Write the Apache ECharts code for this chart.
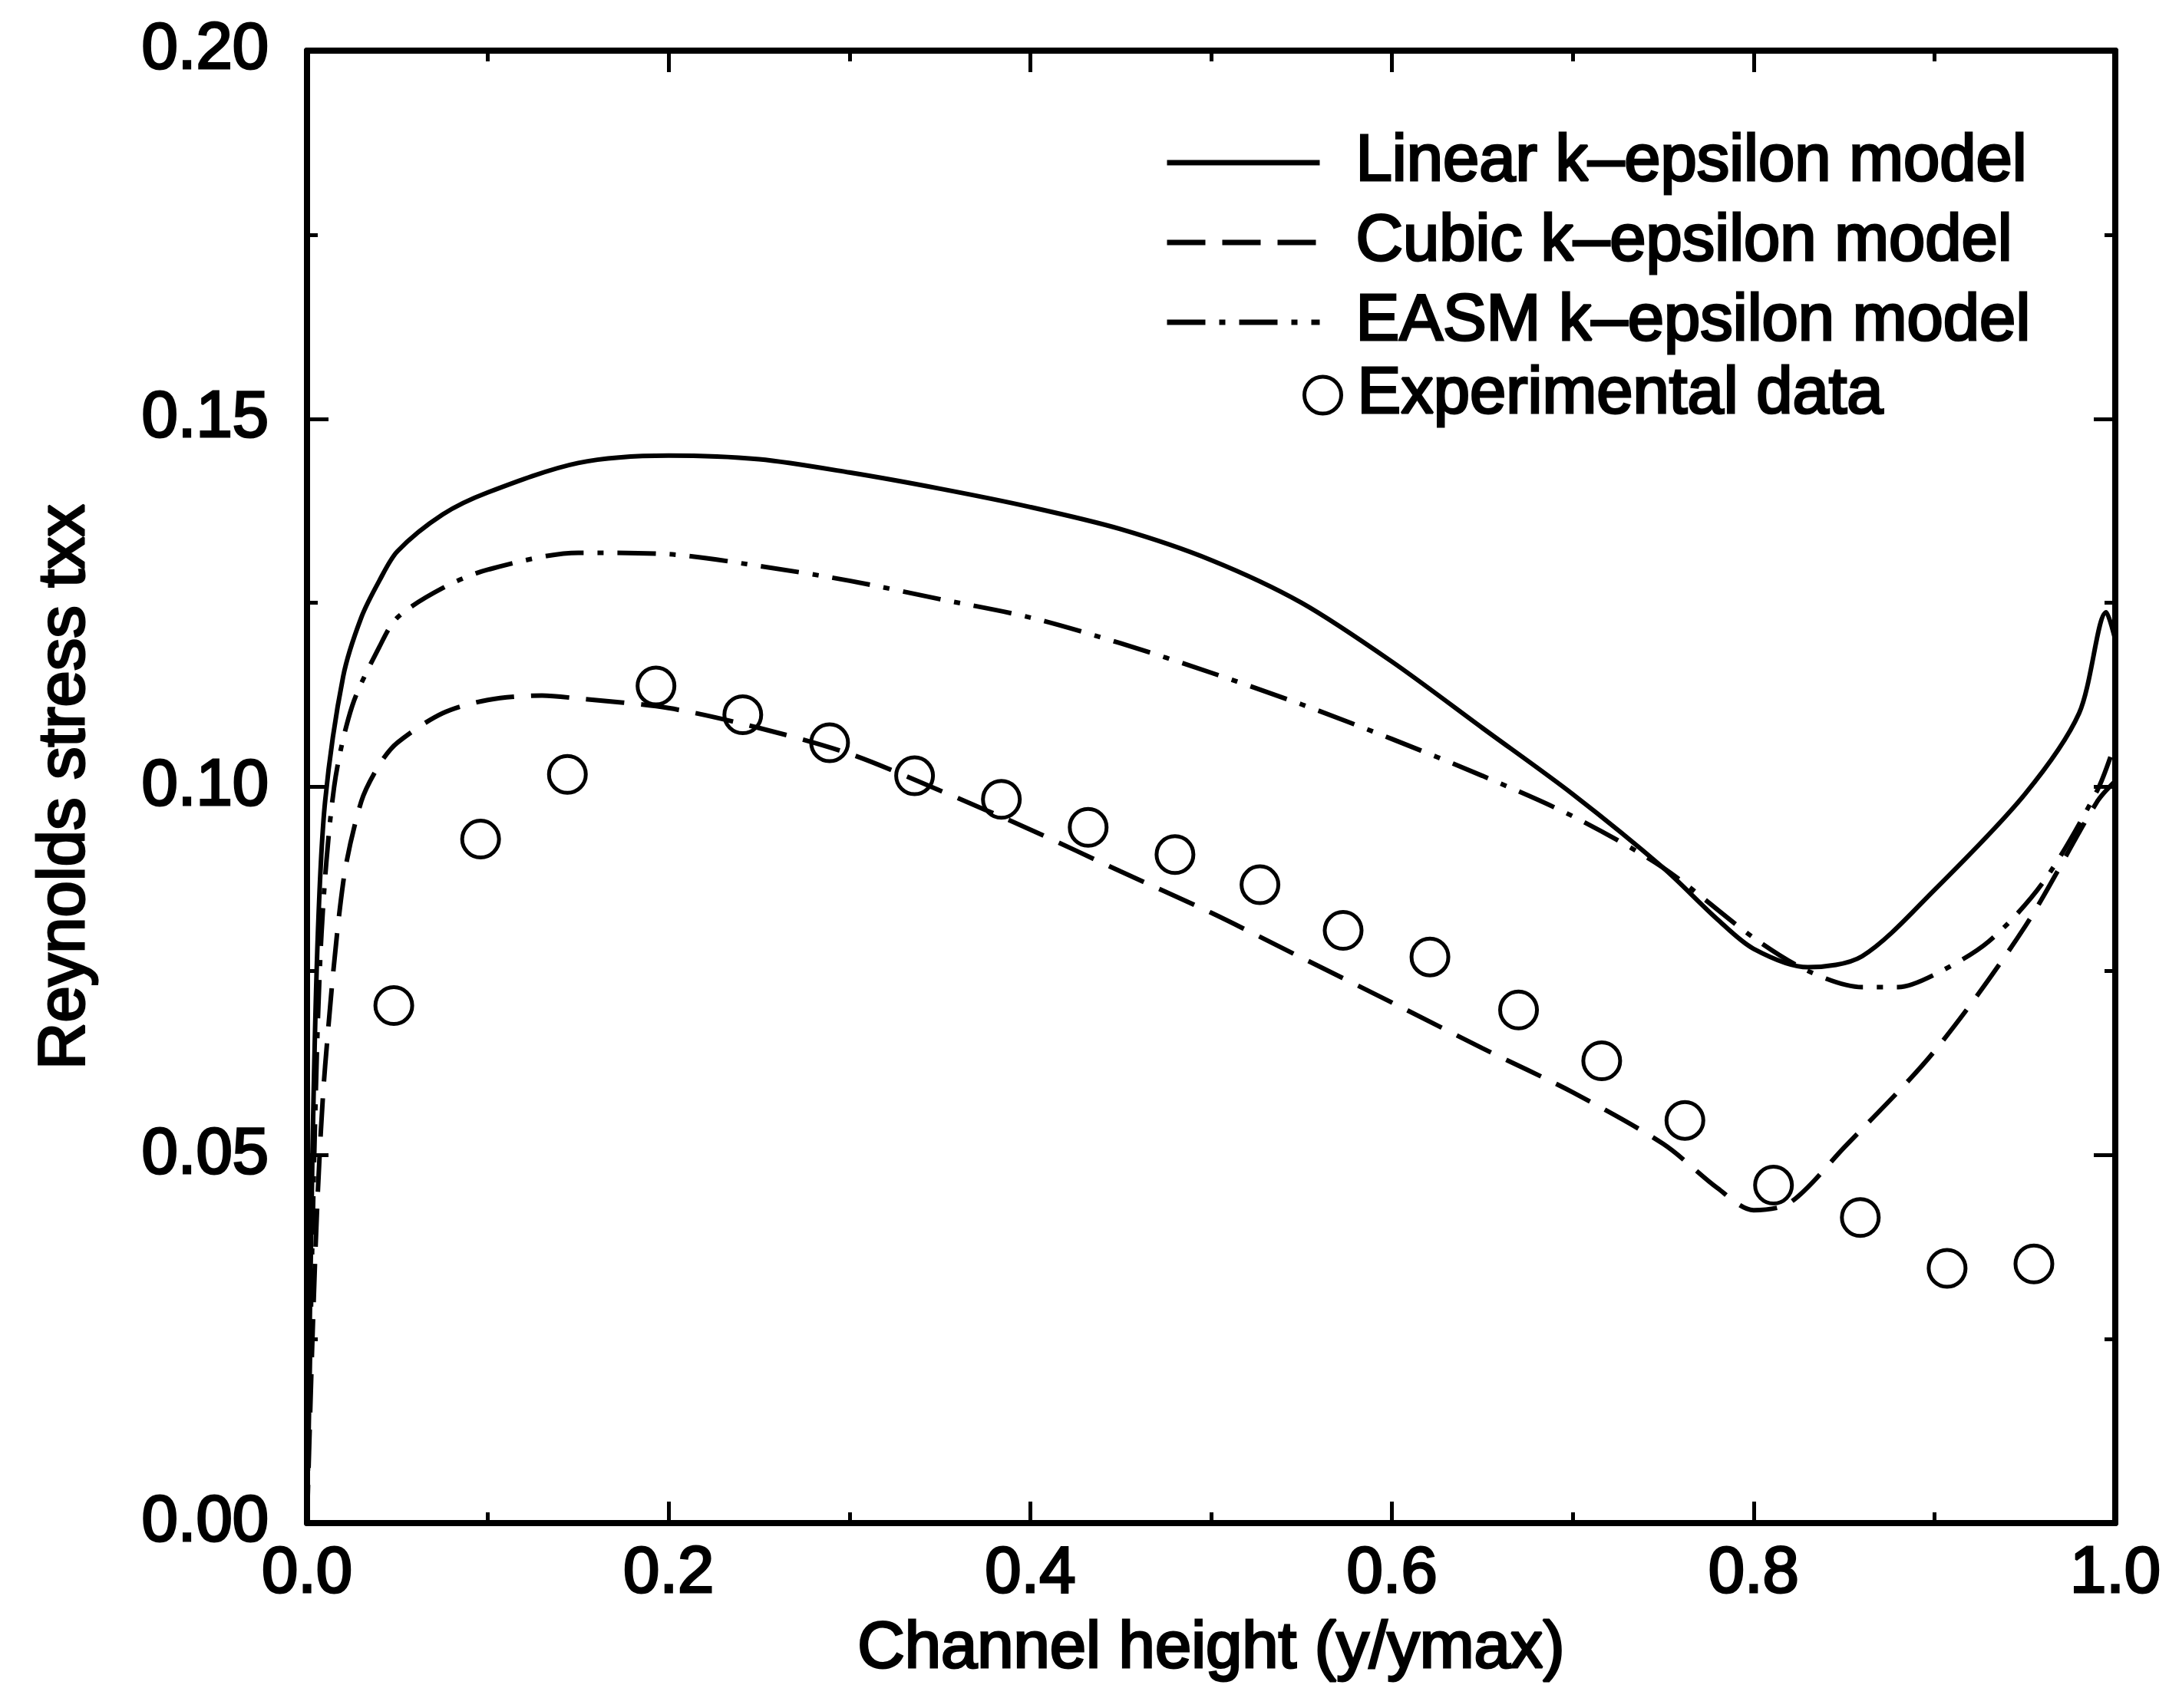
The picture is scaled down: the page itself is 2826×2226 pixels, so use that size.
<!DOCTYPE html>
<html>
<head>
<meta charset="utf-8">
<script src="https://cdn.jsdelivr.net/npm/echarts@6/dist/echarts.min.js"></script>
<style>
html,body{margin:0;padding:0;background:#fff;}
#chart{width:2826px;height:2226px;}
</style>
</head>
<body>
<div id="chart"></div>
<script>
// ---- data ----
const linearX = [0, 0.003, 0.006, 0.01, 0.02, 0.03, 0.04, 0.05, 0.075, 0.1, 0.15, 0.2, 0.25, 0.3, 0.35, 0.4, 0.45, 0.5, 0.55, 0.6, 0.65, 0.7, 0.75, 0.78, 0.8, 0.83, 0.86, 0.9, 0.95, 0.98, 0.995, 1.0];
const linearY = [0, 0.05, 0.08, 0.098, 0.115, 0.123, 0.128, 0.132, 0.137, 0.140, 0.144, 0.145, 0.1445, 0.1427, 0.1405, 0.138, 0.135, 0.1308, 0.125, 0.117, 0.108, 0.099, 0.089, 0.082, 0.078, 0.0755, 0.077, 0.086, 0.099, 0.110, 0.1237, 0.120];

const cubicX = [0, 0.003, 0.006, 0.01, 0.02, 0.03, 0.04, 0.05, 0.075, 0.1, 0.13, 0.15, 0.2, 0.25, 0.3, 0.35, 0.4, 0.45, 0.5, 0.55, 0.6, 0.65, 0.7, 0.75, 0.78, 0.8, 0.82, 0.85, 0.9, 0.95, 0.99, 1.0];
const cubicY = [0, 0.025, 0.045, 0.062, 0.087, 0.098, 0.103, 0.106, 0.110, 0.1118, 0.1124, 0.112, 0.1107, 0.108, 0.1045, 0.0995, 0.0942, 0.0885, 0.0829, 0.0768, 0.0707, 0.0645, 0.0585, 0.0515, 0.0455, 0.0425, 0.0435, 0.051, 0.0641, 0.081, 0.098, 0.1008];

const easmX = [0, 0.004, 0.008, 0.015, 0.025, 0.04, 0.05, 0.075, 0.1, 0.15, 0.2, 0.25, 0.3, 0.35, 0.4, 0.45, 0.5, 0.55, 0.6, 0.65, 0.7, 0.75, 0.8, 0.83, 0.86, 0.88, 0.9, 0.93, 0.96, 0.99, 1.0];
const easmY = [0, 0.05, 0.08, 0.1, 0.111, 0.119, 0.123, 0.127, 0.1295, 0.1318, 0.1316, 0.130, 0.128, 0.1255, 0.123, 0.1195, 0.1155, 0.1112, 0.1065, 0.1015, 0.096, 0.089, 0.0795, 0.075, 0.0728, 0.0728, 0.0745, 0.079, 0.087, 0.0995, 0.106];

const expX = [0.048, 0.096, 0.144, 0.193, 0.241, 0.289, 0.336, 0.384, 0.432, 0.480, 0.527, 0.573, 0.621, 0.670, 0.716, 0.762, 0.811, 0.859, 0.907, 0.955];
const expY = [0.0703, 0.0929, 0.1017, 0.1137, 0.1098, 0.1060, 0.1015, 0.0983, 0.0945, 0.0908, 0.0867, 0.0805, 0.0769, 0.0697, 0.0628, 0.0547, 0.0459, 0.0415, 0.0346, 0.0352];

const seriesNames = ['Linear k–epsilon model', 'Cubic k–epsilon model', 'EASM k–epsilon model', 'Experimental data'];
const xTicks = [0, 0.2, 0.4, 0.6, 0.8, 1.0];
const yTicks = [0, 0.05, 0.10, 0.15, 0.20];
const xTitle = 'Channel height (y/ymax)';
const yTitle = 'Reynolds stress txx';

// ---- chart ----
const FONT = '"Liberation Sans", Arial, Helvetica, sans-serif';
const textBase = {fontFamily: FONT, fontSize: 85, color: '#000', textBorderColor: '#000', textBorderWidth: 3};
const zip = (xs, ys) => xs.map((x, i) => [x, ys[i]]);

function makeX(pos, show) {
  return {
    type: 'value', position: pos, min: xTicks[0], max: xTicks[xTicks.length - 1], interval: 0.2,
    axisLine: {show: true, onZero: false, lineStyle: {color: '#000', width: 8}},
    axisTick: {show: true, inside: true, length: 28, lineStyle: {color: '#000', width: 5}},
    minorTick: {show: true, splitNumber: 2, length: 14, lineStyle: {color: '#000', width: 5}},
    splitLine: {show: false},
    axisLabel: show ? Object.assign({show: true, margin: 24, formatter: v => v.toFixed(1)}, textBase) : {show: false},
    name: show ? xTitle : '', nameLocation: 'middle', nameGap: 122,
    nameTextStyle: textBase
  };
}
function makeY(pos, show) {
  return {
    type: 'value', position: pos, min: yTicks[0], max: yTicks[yTicks.length - 1], interval: 0.05,
    axisLine: {show: true, onZero: false, lineStyle: {color: '#000', width: 8}},
    axisTick: {show: true, inside: true, length: 28, lineStyle: {color: '#000', width: 5}},
    minorTick: {show: true, splitNumber: 2, length: 14, lineStyle: {color: '#000', width: 5}},
    splitLine: {show: false},
    axisLabel: show ? Object.assign({show: true, margin: 50, formatter: v => v.toFixed(2)}, textBase) : {show: false},
    name: show ? yTitle : '', nameLocation: 'middle', nameGap: 272, nameRotate: 90,
    nameTextStyle: textBase
  };
}

const lineCommon = {type: 'line', symbol: 'none', showSymbol: false, smooth: 0.3, xAxisIndex: 0, yAxisIndex: 0, z: 3};

const option = {
  backgroundColor: '#fff',
  animation: false,
  grid: {left: 400, right: 70, top: 66, bottom: 241, containLabel: false},
  xAxis: [makeX('bottom', true), makeX('top', false)],
  yAxis: [makeY('left', true), makeY('right', false)],
  legend: [
    {
      data: seriesNames.slice(0, 3), orient: 'vertical', left: 1517, top: 168, padding: 0,
      itemWidth: 199, itemHeight: 20, itemGap: 16, selectedMode: false,
      itemStyle: {opacity: 0, borderWidth: 0},
      lineStyle: {width: 7},
      textStyle: Object.assign({padding: [0, 0, 0, 42]}, textBase)
    },
    {
      data: [seriesNames[3]], orient: 'vertical', left: 1697, top: 471, padding: 0,
      itemWidth: 48, itemHeight: 48, selectedMode: false, icon: 'circle',
      itemStyle: {color: 'rgba(0,0,0,0)', borderColor: '#000', borderWidth: 5},
      textStyle: Object.assign({padding: [0, 0, 0, 16]}, textBase)
    }
  ],
  series: [
    Object.assign({name: seriesNames[0], data: zip(linearX, linearY),
      lineStyle: {color: '#000', width: 6, type: 'solid'}, itemStyle: {color: '#000'}}, lineCommon),
    Object.assign({name: seriesNames[1], data: zip(cubicX, cubicY),
      lineStyle: {color: '#000', width: 6, type: [50, 22]}, itemStyle: {color: '#000'}}, lineCommon),
    Object.assign({name: seriesNames[2], data: zip(easmX, easmY),
      lineStyle: {color: '#000', width: 6, type: [50, 18, 8, 18]}, itemStyle: {color: '#000'}}, lineCommon),
    {
      name: seriesNames[3], type: 'scatter', data: zip(expX, expY), symbol: 'circle', symbolSize: 48,
      itemStyle: {color: 'rgba(0,0,0,0)', borderColor: '#000', borderWidth: 5, opacity: 1}, z: 4
    }
  ]
};

const chart = echarts.init(document.getElementById('chart'), null, {renderer: 'canvas'});
chart.setOption(option);
</script>
</body>
</html>
